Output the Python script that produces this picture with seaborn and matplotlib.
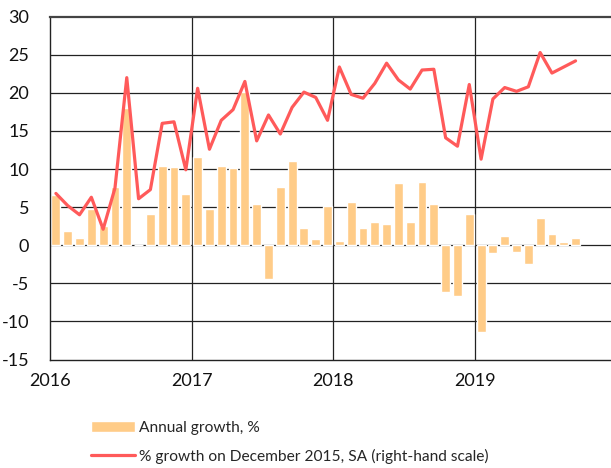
import numpy as np
import pandas as pd
import matplotlib
matplotlib.use("Agg")
import matplotlib.pyplot as plt
import seaborn as sns

# Monthly data, Jan 2016 - Sep 2019
months = pd.date_range("2016-01-01", "2019-09-01", freq="MS")
annual_growth = [6.6, 1.9, 1.0, 4.7, 2.5, 7.6, 18.0, 0.0, 4.1, 10.45, 10.3, 6.7,
                 11.6, 4.7, 10.45, 10.1, 20.1, 5.4, -4.4, 7.7, 11.1, 2.2, 0.8, 5.1,
                 0.6, 5.7, 2.3, 3.0, 2.8, 8.2, 3.0, 8.3, 5.4, -6.1, -6.7, 4.1,
                 -11.4, -1.0, 1.2, -0.9, -2.4, 3.6, 1.5, 0.4, 1.0]
growth_dec2015 = [6.8, 5.2, 4.0, 6.3, 2.1, 7.5, 22.0, 6.1, 7.3, 16.0, 16.2, 9.9,
                  20.6, 12.6, 16.4, 17.8, 21.5, 13.7, 17.1, 14.6, 18.1, 20.1, 19.4, 16.4,
                  23.4, 19.8, 19.3, 21.25, 23.9, 21.7, 20.5, 23.0, 23.1, 14.1, 13.0, 21.1,
                  11.3, 19.2, 20.7, 20.2, 20.8, 25.3, 22.6, 23.4, 24.2]
year_labels = ["2016", "2017", "2018", "2019"]

df = pd.DataFrame({"month": months, "idx": np.arange(len(months)),
                   "annual": annual_growth, "cum": growth_dec2015})

sns.set_style("white")
plt.rcParams["font.family"] = ["Lato", "DejaVu Sans"]
plt.rcParams["axes.unicode_minus"] = False

fig = plt.figure(figsize=(6.11, 4.68), dpi=100)
ax = fig.add_axes([50 / 611, 1 - 359.5 / 468, 1 - 50 / 611, (359.5 - 16.7) / 468])

sns.barplot(data=df, x="idx", y="annual", color="#FFCC88", saturation=1,
            width=0.75, ax=ax, label="Annual growth, %", zorder=2)
sns.lineplot(data=df, x="idx", y="cum", color="#FF5A5A", linewidth=2.3, ax=ax,
             label="% growth on December 2015, SA (right-hand scale)", zorder=3)

ax.set_ylim(-15, 30)
ax.set_yticks(range(-15, 31, 5))
ax.set_xlim(-0.5, 47.0)
ax.set_xticks([-0.5, 11.5, 23.5, 35.5])
ax.set_xticklabels(year_labels)
ax.set_xlabel("")
ax.set_ylabel("")

# grid lines behind the bars
for y in range(-10, 30, 5):
    ax.axhline(y, color="#222222", lw=0.9, zorder=1)
for x in [11.5, 23.5, 35.5]:
    ax.axvline(x, color="#222222", lw=0.9, zorder=1)

for side in ["left", "bottom"]:
    ax.spines[side].set_color("#222222")
    ax.spines[side].set_linewidth(1.0)
ax.spines["top"].set_color("#444444")
ax.spines["top"].set_linewidth(1.6)
ax.spines["right"].set_visible(False)

ax.tick_params(axis="both", length=0, labelsize=13, colors="#111111")
ax.tick_params(axis="y", pad=15)
ax.tick_params(axis="x", pad=10)

ax.get_legend().remove()
handles, labels = ax.get_legend_handles_labels()
order = [labels.index("Annual growth, %"),
         labels.index("% growth on December 2015, SA (right-hand scale)")]
fig.legend([handles[i] for i in order], [labels[i] for i in order],
           loc="upper left", bbox_to_anchor=(0.139, 0.114),
           frameon=False, fontsize=11.2, handlelength=2.8, handletextpad=0.25,
           labelspacing=0.9, borderaxespad=0)

fig.savefig("out.png", dpi=100)
